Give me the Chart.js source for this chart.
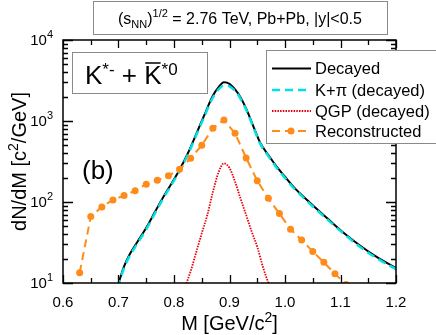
<!DOCTYPE html>
<html>
<head>
<meta charset="utf-8">
<script src="https://cdn.jsdelivr.net/npm/chart.js@4.4.0/dist/chart.umd.min.js"></script>
<style>
    html, body { margin: 0; padding: 0; background: #fff; }
    canvas { display: block; }
</style>
</head>
<body>
<canvas id="chart" width="436" height="335"></canvas>
<script>
// axis ticks
const xTicks = [0.6, 0.7, 0.8, 0.9, 1.0, 1.1, 1.2];
const xTickLabels = ['0.6', '0.7', '0.8', '0.9', '1.0', '1.1', '1.2'];
const xMinorTicks = [0.65, 0.75, 0.85, 0.95, 1.05, 1.15];
const yTicks = [10, 100, 1000, 10000];
const yTickExponents = ['1', '2', '3', '4'];

// Decayed (black)
const decayedM = [0.69, 0.70, 0.71, 0.72, 0.735, 0.75, 0.765, 0.78, 0.795, 0.81, 0.825, 0.84, 0.855, 0.87, 0.88, 0.89, 0.90, 0.91, 0.92, 0.93, 0.943, 0.955, 0.97, 0.985, 1.00, 1.015, 1.045, 1.075, 1.105, 1.135, 1.165, 1.20];
const decayedY = [6.5, 10, 16, 22.5, 33, 48, 74, 113, 167, 250, 400, 690, 1200, 2050, 2600, 3000, 2880, 2450, 1950, 1420, 860, 545, 380, 273, 205, 155, 98, 64, 42, 29, 21, 15.3];

// K+pi (decayed), cyan dashed
const kpiM = [0.69, 0.70, 0.71, 0.72, 0.735, 0.75, 0.765, 0.78, 0.795, 0.81, 0.825, 0.84, 0.855, 0.87, 0.88, 0.89, 0.90, 0.91, 0.92, 0.93, 0.943, 0.955, 0.97, 0.985, 1.00, 1.015, 1.045, 1.075, 1.105, 1.135, 1.165, 1.20];
const kpiY = [6.2, 9.5, 15.3, 21.5, 31.5, 46, 71, 109, 161, 241, 385, 665, 1150, 1950, 2450, 2750, 2680, 2350, 1880, 1380, 835, 530, 368, 265, 198, 150, 95, 62, 41, 28, 20.3, 14.8];

// QGP (decayed), red dotted
const qgpM = [0.81, 0.82, 0.83, 0.84, 0.85, 0.86, 0.87, 0.88, 0.89, 0.90, 0.91, 0.92, 0.93, 0.94, 0.95, 0.96, 0.97, 0.98];
const qgpY = [6, 9, 14, 24, 41, 69, 132, 230, 300, 263, 178, 110, 69, 43, 28, 16, 10, 6.5];

// Reconstructed, orange dashed with points
const recoM = [0.63, 0.65, 0.67, 0.69, 0.71, 0.73, 0.75, 0.77, 0.79, 0.81, 0.83, 0.85, 0.87, 0.89, 0.91, 0.93, 0.95, 0.97, 0.99, 1.01, 1.03, 1.05, 1.07, 1.09, 1.11];
const recoY = [13.4, 66, 87, 106, 120, 138, 166, 185, 211, 253, 347, 502, 813, 1030, 705, 350, 183, 111, 72, 46, 34, 24.5, 18, 13, 9.6];

const FONT = '"Liberation Sans", Arial, Helvetica, sans-serif';
const ORANGE = '#ff8c1a';
const CYAN = '#00e1e6';
const RED = '#e8000b';
const BOX_GRAY = '#8a8a8a';

const toPoints = (xs, ys) => xs.map((m, i) => ({ x: m, y: ys[i] }));

// draws text pieces [text, size, dy] one after another, returns start x of each piece
const drawRuns = (ctx, runs, x, y, align) => {
    let total = 0;
    const widths = runs.map(r => {
        ctx.font = `${r[1]}px ${FONT}`;
        const w = ctx.measureText(r[0]).width;
        total += w;
        return w;
    });
    let cx = x;
    if (align === 'center') cx = x - total / 2;
    if (align === 'right') cx = x - total;
    ctx.textAlign = 'left';
    ctx.textBaseline = 'alphabetic';
    const starts = [];
    runs.forEach((r, i) => {
        ctx.font = `${r[1]}px ${FONT}`;
        ctx.fillText(r[0], cx, y + (r[2] || 0));
        starts.push([cx, widths[i]]);
        cx += widths[i];
    });
    return starts;
};

const drawBox = (ctx, x0, y0, x1, y1) => {
    ctx.fillStyle = '#fff';
    ctx.fillRect(x0, y0, x1 - x0, y1 - y0);
    ctx.strokeStyle = BOX_GRAY;
    ctx.lineWidth = 1;
    ctx.setLineDash([]);
    ctx.strokeRect(x0 + 0.5, y0 + 0.5, x1 - x0, y1 - y0);
};

const decorations = {
    id: 'decorations',
    afterDraw(chart) {
        const { ctx, chartArea: a, scales: { x, y } } = chart;
        ctx.save();

        // frame and inward ticks
        ctx.strokeStyle = '#000';
        ctx.lineWidth = 1.3;
        ctx.beginPath();
        const xTick = (v, len) => {
            const px = Math.round(x.getPixelForValue(v)) + 0.5;
            ctx.moveTo(px, a.bottom); ctx.lineTo(px, a.bottom - len);
            ctx.moveTo(px, a.top); ctx.lineTo(px, a.top + len);
        };
        const yTick = (v, len) => {
            const py = Math.round(y.getPixelForValue(v)) + 0.5;
            ctx.moveTo(a.left, py); ctx.lineTo(a.left + len, py);
            ctx.moveTo(a.right, py); ctx.lineTo(a.right - len, py);
        };
        xTicks.forEach(v => xTick(v, 8));
        xMinorTicks.forEach(v => xTick(v, 5));
        yTicks.forEach(v => yTick(v, 10));
        yTicks.slice(0, -1).forEach(d => {
            for (let k = 2; k <= 9; k++) yTick(d * k, 5);
        });
        ctx.stroke();
        ctx.lineWidth = 1.5;
        ctx.strokeRect(a.left, a.top, a.right - a.left, a.bottom - a.top);

        // tick labels
        ctx.fillStyle = '#000';
        ctx.font = `15px ${FONT}`;
        ctx.textAlign = 'center';
        ctx.textBaseline = 'alphabetic';
        xTicks.forEach((v, i) => {
            ctx.fillText(xTickLabels[i], x.getPixelForValue(v), a.bottom + 24);
        });
        yTicks.forEach((v, i) => {
            const py = y.getPixelForValue(v);
            drawRuns(ctx, [['10', 15, 0], [yTickExponents[i], 11, -7]], 53, py + 5, 'right');
        });

        // axis titles
        drawRuns(ctx, [['M [GeV/c', 20, 0], ['2', 14, -8], [']', 20, 0]], (a.left + a.right) / 2, 330, 'center');
        ctx.save();
        ctx.translate(26, (a.top + a.bottom) / 2);
        ctx.rotate(-Math.PI / 2);
        drawRuns(ctx, [['dN/dM [c', 20, 0], ['2', 14, -8], ['/GeV]', 20, 0]], 0, 0, 'center');
        ctx.restore();

        // title box
        drawBox(ctx, 93, 1, 387, 34);
        ctx.fillStyle = '#000';
        drawRuns(ctx, [['(s', 16, 0], ['NN', 11, 4], [')', 16, 0], ['1/2', 11, -7], [' = 2.76 TeV, Pb+Pb, |y|<0.5', 16, 0]], 240, 24, 'center');

        // particle label box
        drawBox(ctx, 72, 52, 207, 93);
        ctx.fillStyle = '#000';
        const parts = drawRuns(ctx, [['K', 26, 0], ['*-', 17, -9], [' + ', 26, 0], ['K', 26, 0], ['*0', 17, -9]], 85, 84, 'left');
        ctx.strokeStyle = '#000';
        ctx.lineWidth = 1.5;
        ctx.beginPath();
        ctx.moveTo(parts[3][0] + 1, 63);
        ctx.lineTo(parts[3][0] + parts[3][1] - 1, 63);
        ctx.stroke();

        // panel label
        ctx.fillStyle = '#000';
        ctx.font = `26px ${FONT}`;
        ctx.textAlign = 'left';
        ctx.fillText('(b)', 82, 179);

        // legend
        drawBox(ctx, 266, 50, 440, 143);
        const rows = [
            { label: 'Decayed', color: '#000', width: 2, dash: [] },
            { label: 'K+\u03c0 (decayed)', color: CYAN, width: 2.5, dash: [8, 5] },
            { label: 'QGP (decayed)', color: RED, width: 1.8, dash: [1.5, 1.2] },
            { label: 'Reconstructed', color: ORANGE, width: 2, dash: [8, 5], point: true }
        ];
        const rowY = [68.5, 90, 111, 131];
        rows.forEach((r, i) => {
            const yy = rowY[i];
            ctx.strokeStyle = r.color;
            ctx.lineWidth = r.width;
            ctx.setLineDash(r.dash);
            ctx.beginPath();
            ctx.moveTo(272, yy);
            ctx.lineTo(311, yy);
            ctx.stroke();
            ctx.setLineDash([]);
            if (r.point) {
                ctx.fillStyle = ORANGE;
                ctx.beginPath();
                ctx.arc(291, yy, 3.5, 0, Math.PI * 2);
                ctx.fill();
            }
            ctx.fillStyle = '#000';
            ctx.font = `16.5px ${FONT}`;
            ctx.textAlign = 'left';
            ctx.textBaseline = 'middle';
            ctx.fillText(r.label, 315, yy + 1);
        });

        ctx.restore();
    }
};

const config = {
    type: 'line',
    data: {
        datasets: [
            {
                label: 'Reconstructed',
                data: toPoints(recoM, recoY),
                borderColor: ORANGE,
                backgroundColor: ORANGE,
                borderWidth: 2,
                borderDash: [8, 5],
                pointRadius: 3.5,
                pointBorderWidth: 0,
                tension: 0,
                order: 0
            },
            {
                label: 'K+pi (decayed)',
                data: toPoints(kpiM, kpiY),
                borderColor: CYAN,
                borderWidth: 2.5,
                borderDash: [8, 5],
                pointRadius: 0,
                cubicInterpolationMode: 'monotone',
                order: 1
            },
            {
                label: 'Decayed',
                data: toPoints(decayedM, decayedY),
                borderColor: '#000',
                borderWidth: 2,
                pointRadius: 0,
                cubicInterpolationMode: 'monotone',
                order: 2
            },
            {
                label: 'QGP (decayed)',
                data: toPoints(qgpM, qgpY),
                borderColor: RED,
                borderWidth: 1.8,
                borderDash: [1.5, 1.2],
                pointRadius: 0,
                cubicInterpolationMode: 'monotone',
                order: 3
            }
        ]
    },
    options: {
        responsive: false,
        animation: false,
        devicePixelRatio: 1,
        layout: { padding: { left: 63, right: 40, top: 40, bottom: 52 } },
        plugins: {
            legend: { display: false },
            tooltip: { enabled: false }
        },
        scales: {
            x: { type: 'linear', min: 0.6, max: 1.2, display: false },
            y: { type: 'logarithmic', min: 10, max: 10000, display: false }
        }
    },
    plugins: [decorations]
};

document.addEventListener('DOMContentLoaded', () => {
    const ctx = document.getElementById('chart').getContext('2d');
    new Chart(ctx, config);
});
</script>
</body>
</html>
